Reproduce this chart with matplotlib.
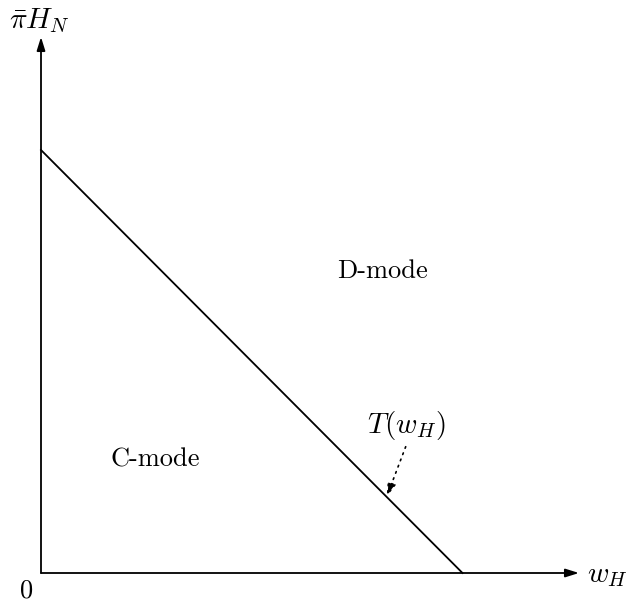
import matplotlib.pyplot as plt

plt.rcParams['mathtext.fontset'] = 'cm'

# threshold line T(w_H): intercepts on each axis
t_x = [0.0, 4.215]
t_y = [4.23, 0.0]
x_end, y_end = 5.38, 5.36
labels = ['D-mode', 'C-mode']

fig = plt.figure(figsize=(6.3, 6.08), dpi=100)
ax = fig.add_axes([0, 0, 1, 1])
ax.set_xlim(-0.41, 5.89)
ax.set_ylim(-0.35, 5.73)
ax.axis('off')

arr = dict(arrowstyle='-|>,head_length=0.8,head_width=0.25', color='black', lw=1.3,
           shrinkA=0, shrinkB=0)
ax.annotate('', xy=(x_end, 0), xytext=(0, 0), arrowprops=arr)
ax.annotate('', xy=(0, y_end), xytext=(0, 0), arrowprops=arr)

ax.plot(t_x, t_y, color='black', lw=1.3)

fs = 19
fm = 21
ax.text(-0.02, 5.52, r'$\bar{\pi}H_N$', fontsize=fm, ha='center', va='center')
ax.text(5.66, -0.02, r'$w_H$', fontsize=fm, ha='center', va='center')
ax.text(-0.15, -0.18, r'$0$', fontsize=fs, ha='center', va='center')
ax.text(3.415, 3.02, labels[0], family='cmr10', fontsize=fs, ha='center', va='center')
ax.text(1.14, 1.13, labels[1], family='cmr10', fontsize=fs, ha='center', va='center')
ax.text(3.65, 1.48, r'$T(w_H)$', fontsize=fm, ha='center', va='center')

ax.annotate('', xy=(3.457, 0.763), xytext=(3.647, 1.263),
            arrowprops=dict(arrowstyle='-|>,head_length=0.8,head_width=0.25',
                            color='black', lw=1.2, ls=(0, (1, 3)), shrinkA=0, shrinkB=0))

plt.savefig('out.png')
